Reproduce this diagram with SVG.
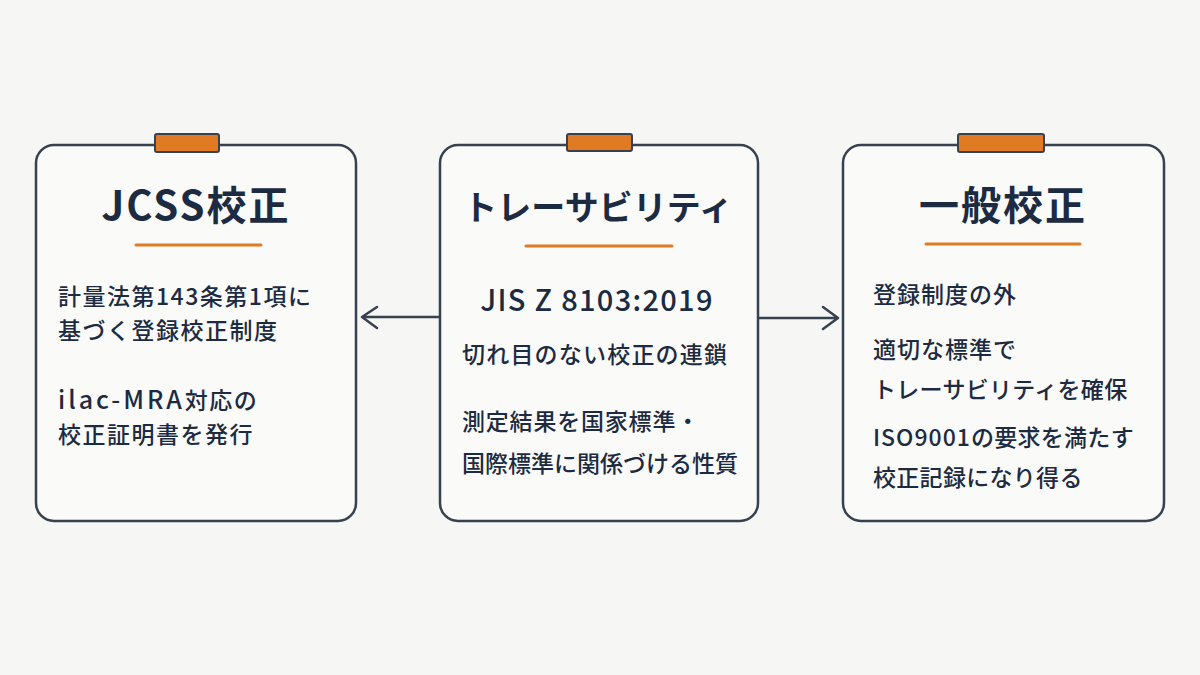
<svg xmlns="http://www.w3.org/2000/svg" width="1200" height="675" viewBox="0 0 1200 675">
<style>
.card{fill:#fafaf8;stroke:#37414f;stroke-width:2.5}
.tab{fill:#e07b24;stroke:#37414f;stroke-width:2}
.ul{stroke:#e07b24;stroke-width:3;stroke-linecap:round}
.title{font-family:"Noto Sans CJK JP","Noto Sans",sans-serif;font-weight:700;fill:#1c2b42;text-anchor:middle}
.body{font-family:"Noto Sans CJK JP","Noto Sans",sans-serif;font-weight:500;fill:#1c2b42;font-size:23px}
.big{font-size:29px}
.conn{fill:none;stroke:#37414f;stroke-width:2.5;stroke-linecap:round;stroke-linejoin:round}
</style>
<rect width="1200" height="675" fill="#f6f6f4"/>
<g id="connectors">
<path class="conn" d="M440 317 H363 M377 307 L362 317 L377 328"/>
<path class="conn" d="M758 318 H837 M823 307 L838 318 L823 329"/>
</g>
<g id="node-jcss">
<rect class="card" x="36" y="145" width="320" height="376" rx="18"/>
<rect class="tab" x="155" y="134" width="64" height="18" rx="2"/>
<text class="title" x="196" y="220" font-size="40" letter-spacing="2">JCSS校正</text>
<line class="ul" x1="136" y1="245" x2="261" y2="245"/>
<text class="body" x="58" y="305" letter-spacing="1.5">計量法第143条第1項に</text>
<text class="body" x="58" y="339" letter-spacing="1.5">基づく登録校正制度</text>
<text class="body" x="58" y="409" letter-spacing="1.5"><tspan font-size="25" letter-spacing="3">ilac-MRA</tspan>対応の</text>
<text class="body" x="58" y="443" letter-spacing="1.5">校正証明書を発行</text>
</g>
<g id="node-traceability">
<rect class="card" x="440" y="145" width="318" height="376" rx="18"/>
<rect class="tab" x="567" y="134" width="65" height="17" rx="2"/>
<text class="title" x="598" y="220" font-size="34">トレーサビリティ</text>
<line class="ul" x1="526" y1="246" x2="672" y2="246"/>
<text class="body big" x="597" y="311" text-anchor="middle" letter-spacing="1.3">JIS Z 8103:2019</text>
<text class="body" x="462" y="363" letter-spacing="1.2">切れ目のない校正の連鎖</text>
<text class="body" x="462" y="430" letter-spacing="0.8">測定結果を国家標準・</text>
<text class="body" x="462" y="472" letter-spacing="0">国際標準に関係づける性質</text>
</g>
<g id="node-general">
<rect class="card" x="843" y="145" width="321" height="376" rx="18"/>
<rect class="tab" x="958" y="134" width="86" height="18" rx="2"/>
<text class="title" x="1003" y="220" font-size="40" letter-spacing="2">一般校正</text>
<line class="ul" x1="926" y1="244" x2="1080" y2="244"/>
<text class="body" x="873" y="303" letter-spacing="1">登録制度の外</text>
<text class="body" x="873" y="358" letter-spacing="1">適切な標準で</text>
<text class="body" x="873" y="398" letter-spacing="0.3">トレーサビリティを確保</text>
<text class="body" x="873" y="446" letter-spacing="0.3"><tspan letter-spacing="1">ISO9001</tspan>の要求を満たす</text>
<text class="body" x="873" y="486" letter-spacing="0.3">校正記録になり得る</text>
</g>
</svg>
